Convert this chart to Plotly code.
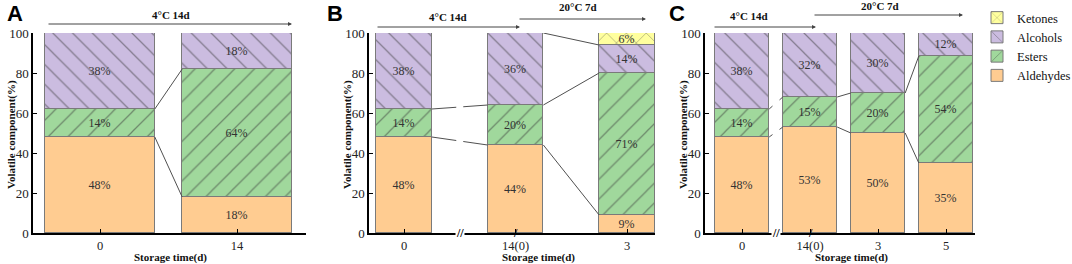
import plotly.graph_objects as go

# ---------------- data ----------------
series_names = ["Aldehydes", "Esters", "Alcohols", "Ketones"]

a_categories = ["0", "14"]
a_aldehydes = [48, 18]
a_esters = [14, 64]
a_alcohols = [38, 18]
a_ketones = [0, 0]

b_categories = ["0", "14(0)", "3"]
b_aldehydes = [48, 44, 9]
b_esters = [14, 20, 71]
b_alcohols = [38, 36, 14]
b_ketones = [0, 0, 6]

c_categories = ["0", "14(0)", "3", "5"]
c_aldehydes = [48, 53, 50, 35]
c_esters = [14, 15, 20, 53.5]
c_alcohols = [38, 32, 30, 11.5]
c_ketones = [0, 0, 0, 0]

panel_letters = ["A", "B", "C"]
stage1_label = "4°C 14d"
stage2_label = "20°C 7d"
x_title = "Storage time(d)"
y_title = "Volatile component(%)"

# ---------------- style ----------------
W, H = 1072, 264
SERIF = "Liberation Serif"
fill = {"Aldehydes": "#FFCC91", "Esters": "#A0D89C", "Alcohols": "#CBBCE0", "Ketones": "#FFFF9E"}
hatch = {"Aldehydes": "", "Esters": "/", "Alcohols": "\\", "Ketones": "x"}

def px_x(p):
    return p / W

def px_y(p):
    return 1 - p / H

Y_DOM = [px_y(233), px_y(33)]

panels = [
    dict(cats=a_categories, vals=[a_aldehydes, a_esters, a_alcohols, a_ketones],
         dom=(33, 306), c0=100, unit=137, width=0.8, brk=False, legend=False,
         xtitle=170),
    dict(cats=b_categories, vals=[b_aldehydes, b_esters, b_alcohols, b_ketones],
         dom=(369, 655), c0=404, unit=111.5, width=0.5, brk=True, legend=True,
         xtitle=538),
    dict(cats=c_categories, vals=[c_aldehydes, c_esters, c_alcohols, c_ketones],
         dom=(705, 975), c0=742, unit=68, width=0.8, brk=True, legend=False,
         xtitle=851),
]

fig = go.Figure()
shapes = []
annotations = []

for pi, p in enumerate(panels):
    sfx = "" if pi == 0 else str(pi + 1)
    xa, ya = "x" + sfx, "y" + sfx
    n = len(p["cats"])
    xs = list(range(n))
    for si, name in enumerate(series_names):
        yv = [v if v else None for v in p["vals"][si]]
        if all(v is None for v in yv):
            continue
        fig.add_trace(go.Bar(
            x=xs, y=yv, name=name, xaxis=xa, yaxis=ya, width=p["width"],
            marker=dict(color=fill[name], line=dict(color="#7a7a7a", width=1),
                        pattern=dict(shape=hatch[name], fgcolor="#3a3a3a",
                                     size=14, solidity=0.09)),
            texttemplate="%{y:.0f}%", textposition="inside",
            insidetextanchor="middle", textangle=0,
            textfont=dict(family=SERIF, size=12, color="#333333"),
            showlegend=p["legend"], hoverinfo="skip",
        ))
    # connectors between stacked boundaries
    cums = []
    for i in range(n):
        c, acc = [], 0
        for si in range(3):
            acc += p["vals"][si][i]
            c.append(acc)
        cums.append(c)
    hw = p["width"] / 2
    for i in range(n - 1):
        for k in range(3):
            y0, y1 = cums[i][k], cums[i + 1][k]
            if abs(y0 - y1) < 0.5:
                continue
            x0, x1 = i + hw, i + 1 - hw
            if p["brk"] and i == 0:
                gap = 3.5 / p["unit"]
                xm = 0.5
                t0 = (xm - gap - x0) / (x1 - x0)
                t1 = (xm + gap - x0) / (x1 - x0)
                segs = [(x0, y0, xm - gap, y0 + (y1 - y0) * t0),
                        (xm + gap, y0 + (y1 - y0) * t1, x1, y1)]
            else:
                segs = [(x0, y0, x1, y1)]
            for sx0, sy0, sx1, sy1 in segs:
                shapes.append(dict(type="line", xref=xa, yref=ya, x0=sx0, y0=sy0,
                                   x1=sx1, y1=sy1, line=dict(color="#505050", width=1)))
    # axis break marks
    if p["brk"]:
        annotations.append(dict(text="<b>//</b>", xref=xa, yref="paper", x=0.5,
                                y=Y_DOM[0], showarrow=False, bgcolor="white",
                                font=dict(family=SERIF, size=12, color="black"),
                                xanchor="center", yanchor="middle", borderpad=0))
        annotations.append(dict(text="<b>/</b>", xref=xa, yref="paper", x=1,
                                y=Y_DOM[0], showarrow=False,
                                font=dict(family=SERIF, size=12, color="black"),
                                xanchor="center", yanchor="middle"))
    r0 = (p["dom"][0] - p["c0"]) / p["unit"]
    r1 = (p["dom"][1] - p["c0"]) / p["unit"]
    fig.update_layout(**{
        "xaxis" + sfx: dict(domain=[px_x(p["dom"][0]), px_x(p["dom"][1])],
                            range=[r0, r1], tickvals=xs, ticktext=p["cats"],
                            ticks="inside", ticklen=4, tickcolor="black",
                            showline=True, linecolor="black", linewidth=1.5,
                            showgrid=False, zeroline=False, anchor=ya, automargin=False,
                            tickfont=dict(family=SERIF, size=12.5, color="#222")),
        "yaxis" + sfx: dict(domain=Y_DOM, range=[0, 100], tickvals=[0, 20, 40, 60, 80, 100],
                            ticks="inside", ticklen=4, tickcolor="black",
                            showline=True, linecolor="black", linewidth=1.5,
                            showgrid=False, zeroline=False, anchor=xa, automargin=False,
                            tickfont=dict(family=SERIF, size=13, color="#222")),
    })
    # axis titles
    annotations.append(dict(text="<b>" + x_title + "</b>", xref="paper", yref="paper",
                            x=px_x(p["xtitle"]), y=px_y(257), showarrow=False,
                            font=dict(family=SERIF, size=11, color="#111"),
                            xanchor="center", yanchor="middle"))
    annotations.append(dict(text="<b>" + y_title + "</b>", xref="paper", yref="paper",
                            x=px_x(p["dom"][0] - 22), y=px_y(135), showarrow=False,
                            textangle=-90,
                            font=dict(family=SERIF, size=11, color="#111"),
                            xanchor="center", yanchor="middle"))

# panel letters
for letter, lx in zip(panel_letters, [5, 325, 667]):
    annotations.append(dict(text="<b>" + letter + "</b>", xref="paper", yref="paper",
                            x=px_x(lx), y=px_y(14), showarrow=False,
                            font=dict(family="Liberation Sans", size=22, color="black"),
                            xanchor="left", yanchor="middle"))

# storage-condition arrows
def arrow(x0, x1, y, label, ty, tx):
    annotations.append(dict(text="", xref="paper", yref="paper", x=px_x(x1), y=px_y(y),
                            ax=-(x1 - x0), ay=0, showarrow=True, arrowhead=2,
                            arrowsize=0.8, arrowwidth=1, arrowcolor="#444"))
    annotations.append(dict(text="<b>" + label + "</b>", xref="paper", yref="paper",
                            x=px_x(tx), y=px_y(ty), showarrow=False,
                            font=dict(family=SERIF, size=11, color="#111"),
                            xanchor="center", yanchor="middle"))

arrow(47, 292, 24, stage1_label, 15, 171)
arrow(376, 520, 27, stage1_label, 17, 448)
arrow(518, 646, 19, stage2_label, 7, 578)
arrow(713, 816, 27, stage1_label, 16, 749)
arrow(813, 963, 15, stage2_label, 6, 880)

fig.update_layout(
    width=W, height=H, margin=dict(l=0, r=0, t=0, b=0, autoexpand=False),
    paper_bgcolor="white", plot_bgcolor="white",
    barmode="stack", bargap=0,
    shapes=shapes, annotations=annotations,
    uniformtext=dict(mode="show", minsize=12),
    legend=dict(x=px_x(977), y=px_y(3), xanchor="left", yanchor="top",
                traceorder="reversed", tracegroupgap=0,
                font=dict(family=SERIF, size=12.5, color="#111"),
                bgcolor="rgba(0,0,0,0)"),
)

fig.write_html(
    "out.html",
    config={"displayModeBar": False},
    post_script="document.body.style.margin='0';document.body.style.overflow='hidden';",
)
